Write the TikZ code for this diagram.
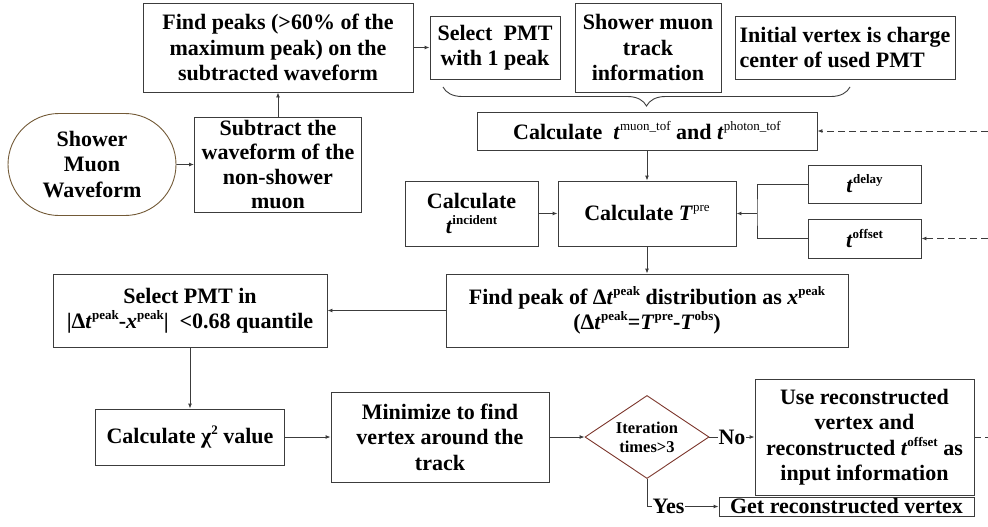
\documentclass[tikz,border=0pt]{standalone}
\usepackage{fontspec}
\setmainfont{Liberation Serif}
\usetikzlibrary{arrows.meta,shapes.geometric,shapes.misc,decorations.pathreplacing}
\definecolor{edge}{RGB}{60,60,60}
\definecolor{stadbrown}{RGB}{115,90,55}
\definecolor{diabrown}{RGB}{125,55,45}
\newcommand\su[1]{\raisebox{9pt}{\fontsize{13}{13}\selectfont #1}}
\newcommand\sureg[1]{\raisebox{9pt}{\fontsize{13}{13}\mdseries\selectfont #1}}
\newcommand\ti[1]{\textit{#1}}
\begin{document}
\begin{tikzpicture}[x=1pt,y=-1pt,
  box/.style={draw=edge, line width=0.9pt, align=center, inner sep=0pt, text=black,
    font=\bfseries\fontsize{22}{25.5}\selectfont},
  conn/.style={draw=edge, line width=0.9pt},
  arr/.style={conn, -{Latex[length=5pt,width=4pt]}},
  darr/.style={arr, dash pattern=on 7pt off 4pt},
  lbl/.style={fill=white, inner sep=0.5pt, font=\bfseries\fontsize{22}{25.5}\selectfont},
]
\useasboundingbox (0,0) rectangle (988,527);

% top part
\node[box, rounded rectangle, draw=stadbrown, minimum width=168pt, minimum height=102pt] (wave) at (92,164.5) {Shower\\Muon\\Waveform};
\node[box, minimum width=167pt, minimum height=95pt, font=\bfseries\fontsize{22}{24.5}\selectfont] (sub) at (278,164.5) {Subtract the\\waveform of the\\non-shower\\muon};
\node[box, minimum width=270pt, minimum height=89pt] (fp) at (278,47.5) {Find peaks (>60\% of the\\maximum peak) on the\\subtracted waveform};
\node[box, minimum width=130pt, minimum height=63pt] (sel) at (495,47.5) {Select~~PMT\\with 1 peak};
\node[box, minimum width=146pt, minimum height=89pt] (trk) at (648,47.5) {Shower muon\\track\\information};
\node[box, align=left, minimum width=220pt, minimum height=63pt] (ini) at (845,47.5) {Initial vertex is charge\\center of used PMT};

\coordinate (bl) at (443,87);
\coordinate (br) at (850,87);
\draw[conn, decorate, decoration={brace, mirror, amplitude=19pt}] (bl) -- (br);

\node[box, minimum width=340pt, minimum height=38pt] (tof) at (647,131) {Calculate~~\ti{t}\sureg{muon\_tof} and \ti{t}\sureg{photon\_tof}};
\node[box, minimum width=133pt, minimum height=65pt] (inc) at (471.5,213.5) {Calculate\\\ti{t}\su{incident}};
\node[box, minimum width=178pt, minimum height=65pt] (tpre) at (647,213.5) {Calculate \ti{T}\sureg{pre}};
\node[box, minimum width=113pt, minimum height=38pt] (dly) at (864.5,184) {\ti{t}\su{delay}};
\node[box, minimum width=113pt, minimum height=39pt] (off) at (864.5,238.5) {\ti{t}\su{offset}};

\node[box, minimum width=402pt, minimum height=73pt] (fpk) at (647,310.5) {Find peak of Δ\ti{t}\su{peak} distribution as \ti{x}\su{peak}\\(Δ\ti{t}\su{peak}=\ti{T}\su{pre}-\ti{T}\su{obs})};
\node[box, minimum width=274pt, minimum height=73pt] (sin) at (190,310.5) {Select PMT in\\|Δ\ti{t}\su{peak}-\ti{x}\su{peak}|~~<0.68 quantile};

\node[box, minimum width=189pt, minimum height=56pt] (chi) at (190,437) {Calculate χ\su{2} value};
\node[box, minimum width=218pt, minimum height=90pt] (min) at (440,437) {Minimize to find\\vertex around the\\track};
\node[diamond, draw=diabrown, line width=0.9pt, aspect=1.494, minimum width=124pt, minimum height=83pt, inner sep=0pt, align=center, font=\bfseries\fontsize{16.5}{19}\selectfont] (dia) at (647,437) {Iteration\\times>3};
\node[box, minimum width=219pt, minimum height=116pt] (use) at (864.5,437) {Use reconstructed\\vertex and\\reconstructed \ti{t}\su{offset} as\\input information};
\node[box, minimum width=255pt, minimum height=19pt, text height=14pt, text depth=1pt] (get) at (846.5,506.5) {Get reconstructed vertex};

% connectors
\draw[arr] (wave) -- (sub);
\draw[arr] (sub) -- (fp);
\draw[arr] (fp) -- (sel);
\draw[arr] (tof) -- (tpre);
\draw[arr] (inc) -- (tpre);
\coordinate (jn) at (757,213.5);
\draw[conn] (dly.west) -| (jn) |- (off.west);
\draw[arr] (jn) -- (tpre.east);
\coordinate (rt1) at (988,131);
\coordinate (rt2) at (988,238.5);
\coordinate (rt3) at (988,437);
\draw[darr] (rt1) -- (tof.east);
\draw[darr] (rt2) -- (off.east);
\draw[arr] (tpre) -- (fpk);
\draw[arr] (fpk) -- (sin);
\draw[arr] (sin) -- (chi);
\draw[arr] (chi) -- (min);
\draw[arr] (min) -- (dia);
\draw[arr] (dia.east) -- node[lbl] {No} (use.west);
\draw[arr] (dia.south) |- node[lbl, pos=0.65] {Yes} (get.west);
\draw[conn, dash pattern=on 7pt off 4pt] (use.east) -- (rt3);
\end{tikzpicture}
\end{document}
